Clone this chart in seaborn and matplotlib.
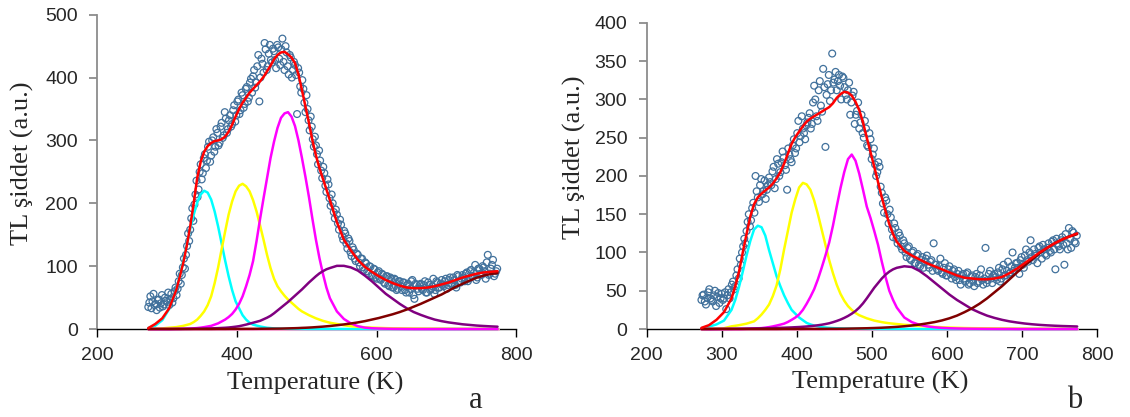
import matplotlib
matplotlib.use("Agg")
import matplotlib.pyplot as plt
import numpy as np
import seaborn as sns

# sicaklik eksenleri (K)
# fit egrileri: tepe bolgesinde 5 K, kenarlarda 10 K aralik
t_fit = np.concatenate([np.arange(273, 313, 10), np.arange(313, 538, 5), np.arange(543, 774, 10)])
# olcum noktalari: iki kaydirilmis 3 K dizisi
t_data = np.arange(273, 772, 3)
t_data2 = np.arange(274.5, 773, 3)

# ---- panel a ----
a_data = [35, 52, 44, 38, 30, 47, 41, 36, 50, 43,
          38, 56, 49, 66, 64, 88, 86, 112, 118, 152,
          158, 192, 198, 236, 222, 262, 248, 278, 268, 298,
          276, 305, 290, 312, 296, 328, 308, 335, 318, 340,
          326, 356, 340, 365, 348, 372, 358, 385, 368, 398,
          402, 384, 418, 362, 430, 408, 445, 418, 452, 424,
          442, 415, 448, 420, 462, 412, 440, 405, 432, 412,
          420, 342, 408, 376, 382, 345, 350, 316, 322, 290,
          292, 262, 268, 240, 248, 218, 230, 196, 200, 176,
          182, 158, 166, 142, 152, 128, 140, 116, 126, 108,
          118, 100, 112, 94, 104, 88, 99, 84, 95, 80,
          92, 78, 86, 72, 84, 68, 80, 66, 78, 64,
          76, 62, 74, 58, 72, 64, 78, 48, 70, 60,
          72, 62, 76, 58, 70, 64, 80, 62, 74, 66,
          78, 68, 80, 70, 82, 72, 78, 66, 84, 74,
          86, 76, 90, 80, 94, 84, 102, 82, 96, 86,
          98, 80, 118, 88, 102, 84, 92]
a_data2 = [42, 33, 56, 40, 46, 34, 54, 39, 45, 58,
           47, 42, 60, 54, 76, 72, 98, 96, 132, 140,
           176, 172, 214, 210, 250, 238, 272, 256, 290, 266,
           300, 282, 318, 292, 322, 304, 345, 312, 332, 322,
           348, 330, 362, 342, 376, 352, 382, 362, 392, 376,
           412, 392, 436, 400, 422, 455, 412, 438, 428, 446,
           428, 452, 430, 445, 425, 450, 418, 436, 400, 425,
           404, 415, 386, 396, 360, 372, 332, 338, 302, 306,
           278, 284, 252, 258, 228, 238, 208, 214, 186, 190,
           168, 174, 148, 156, 136, 144, 122, 130, 112, 120,
           106, 112, 98, 106, 92, 100, 86, 96, 82, 90,
           80, 88, 74, 84, 70, 82, 66, 80, 62, 76,
           68, 74, 62, 70, 58, 76, 54, 72, 64, 70,
           64, 70, 58, 74, 62, 68, 56, 76, 66, 72,
           70, 76, 64, 78, 72, 82, 70, 86, 76, 80,
           82, 88, 76, 92, 84, 90, 78, 96, 88, 100,
           92, 106, 86, 96, 110, 88, 96]

a_red = [1.5, 8, 17, 33,
         62, 83, 105, 132, 163, 200, 240, 266, 282, 291,
         296, 299, 300, 302, 306, 314, 325, 338, 350, 360,
         368, 376, 382, 388, 394, 401, 410, 419, 429, 436,
         440, 441, 437, 432, 423, 405, 380, 354, 328, 300,
         276, 256, 239, 222, 205,
         170, 142, 125, 110, 99, 91, 84, 78, 73, 69, 66, 65,
         65, 66, 68, 71, 74, 78, 82, 85, 88, 90, 91, 92]
a_cyan = [1.7, 5.3, 14, 32,
          63, 84, 108, 133, 159, 182, 201, 214, 220, 217,
          206, 187, 163, 136, 109, 84, 62, 44, 33, 22,
          15, 10, 7, 5.5, 4, 3, 2, 1.5, 1, 0.7,
          0.5, 0.4, 0.3, 0.25, 0.2, 0.15, 0.1, 0.05, 0, 0,
          0, 0, 0, 0, 0,
          0, 0, 0, 0, 0, 0, 0, 0, 0, 0, 0, 0,
          0, 0, 0, 0, 0, 0, 0, 0, 0, 0, 0, 0]
a_yellow = [0, 0.5, 1, 2,
            3, 4, 5, 6.5, 8, 11, 15, 21, 28, 38,
            52, 73, 98, 127, 155, 182, 203, 219, 228, 231,
            227, 219, 205, 187, 165, 142, 118, 97, 80, 68,
            60, 53, 47, 42, 37, 32, 28, 25, 22, 19.5,
            17, 15, 13, 11.5, 10,
            8, 6, 4.5, 3.5, 2.8, 2.2, 1.8, 1.4, 1.1, 1.0, 0.9, 0.8,
            0.7, 0.6, 0.55, 0.5, 0.45, 0.4, 0.35, 0.3, 0.3, 0.25, 0.2, 0.2]
a_magenta = [0, 0, 0, 0,
             0.2, 0.3, 0.4, 0.6, 0.8, 1.1, 1.5, 2.2, 3, 4,
             5, 7, 9, 12, 15, 19, 24, 31, 40, 52,
             68, 86, 108, 140, 175, 208, 240, 272, 298, 320,
             336, 343, 345, 338, 323, 300, 272, 242, 210, 175,
             142, 113, 88, 66, 49,
             28, 16, 9, 4.5, 2.2, 1.2, 0.8, 0.5, 0.3, 0.2, 0.1, 0,
             0, 0, 0, 0, 0, 0, 0, 0, 0, 0, 0, 0]
a_purple = [0, 0, 0, 0,
            0.1, 0.1, 0.2, 0.25, 0.3, 0.4, 0.5, 0.6, 0.7, 0.85,
            1.0, 1.2, 1.4, 1.7, 2.0, 2.4, 3.0, 3.7, 4.5, 5.7,
            7, 8.5, 10, 11.5, 13, 15.5, 18, 21, 25, 29.5,
            34, 38.5, 43, 48, 53, 58, 63, 68.5, 74, 79,
            84, 88.5, 92, 95, 97,
            100.5, 100.5, 98, 93, 85, 76, 66, 56, 48, 40, 33, 27,
            22.5, 18.5, 15, 12.5, 10.5, 9, 7.5, 6.5, 5.5, 4.8, 4.2, 3.7]
a_darkred = [0, 0, 0, 0,
             0, 0, 0, 0, 0, 0, 0, 0, 0, 0,
             0, 0.05, 0.1, 0.1, 0.1, 0.15, 0.2, 0.2, 0.2, 0.25,
             0.3, 0.3, 0.3, 0.35, 0.4, 0.45, 0.5, 0.55, 0.6, 0.65,
             0.7, 0.85, 1, 1.15, 1.3, 1.5, 1.8, 2, 2.3, 2.6,
             3, 3.4, 3.8, 4.3, 4.8,
             6, 7.3, 8.8, 10.5, 12.5, 15, 17.5, 20.5, 23.5, 27, 31, 35.5,
             40, 45, 50, 55, 61, 67, 72, 77, 81.5, 85, 87.5, 89]

# ---- panel b ----
b_data = [38, 45, 32, 48, 40, 36, 50, 42, 34, 46,
          40, 26, 52, 48, 62, 56, 78, 92, 100, 118,
          128, 150, 142, 165, 200, 172, 188, 176, 194, 182,
          198, 188, 212, 196, 216, 205, 232, 214, 182, 228,
          218, 248, 236, 272, 252, 262, 248, 270, 282, 268,
          318, 278, 312, 292, 340, 238, 320, 298, 360, 326,
          312, 332, 300, 328, 306, 312, 280, 305, 268, 285,
          262, 280, 250, 262, 238, 248, 228, 215, 205, 212,
          178, 152, 168, 138, 146, 120, 132, 112, 122, 104,
          112, 94, 108, 90, 102, 86, 98, 82, 94, 88,
          96, 80, 90, 112, 84, 76, 92, 72, 86, 70,
          82, 66, 78, 64, 76, 58, 72, 62, 74, 60,
          70, 56, 72, 62, 78, 58, 106, 64, 76, 60,
          72, 64, 80, 66, 84, 70, 88, 74, 100, 80,
          86, 72, 94, 80, 104, 88, 116, 90, 98, 86,
          108, 92, 104, 96, 112, 100, 116, 78, 110, 104,
          120, 84, 112, 132, 106, 126, 112]
b_data2 = [44, 36, 41, 52, 38, 44, 30, 47, 40, 38,
           48, 44, 40, 58, 52, 70, 66, 84, 108, 112,
           140, 134, 158, 152, 180, 166, 196, 180, 170, 188,
           192, 206, 184, 222, 200, 218, 224, 208, 236, 222,
           240, 230, 256, 244, 278, 256, 266, 276, 262, 296,
           300, 272, 324, 284, 316, 306, 332, 312, 322, 336,
           324, 318, 330, 316, 300, 322, 296, 310, 280, 296,
           270, 256, 272, 240, 256, 222, 236, 200, 218, 186,
           164, 172, 150, 156, 130, 138, 118, 126, 108, 116,
           100, 106, 92, 100, 86, 96, 84, 90, 80, 92,
           84, 88, 76, 84, 78, 82, 74, 80, 70, 78,
           72, 76, 68, 72, 64, 70, 66, 72, 58, 68,
           62, 68, 60, 70, 64, 66, 60, 72, 66, 70,
           68, 74, 62, 78, 70, 76, 72, 82, 76, 86,
           80, 90, 84, 96, 90, 100, 94, 104, 96, 106,
           100, 110, 98, 106, 102, 114, 104, 118, 108, 116,
           110, 124, 104, 118, 128, 114, 122]

b_red = [1.5, 5, 12, 22,
         40, 56, 75, 100, 124, 147, 163, 172, 177, 181,
         185, 190, 197, 205, 216, 229, 242, 251, 258, 265,
         271, 275, 278, 281, 284, 287, 290, 295, 302, 307,
         310, 309, 305, 297, 286, 270, 250, 231, 212, 192,
         172, 154, 137, 124, 114,
         102, 96, 91, 86, 82, 78, 74, 70, 67, 66, 65, 65,
         66, 68, 73, 79, 86, 93, 100, 106, 112, 117, 121, 125]
b_cyan = [1, 3, 6, 11,
          25, 38, 55, 75, 96, 115, 130, 135, 133, 122,
          103, 86, 69, 56, 44, 34, 25, 20, 15, 11.5,
          8, 6, 4.5, 3.5, 2.5, 2, 1.5, 1.2, 1, 0.8,
          0.6, 0.5, 0.4, 0.35, 0.3, 0.25, 0.2, 0.15, 0.1, 0.05,
          0, 0, 0, 0, 0,
          0, 0, 0, 0, 0, 0, 0, 0, 0, 0, 0, 0,
          0, 0, 0, 0, 0, 0, 0, 0, 0, 0, 0, 0]
b_yellow = [0, 0.3, 0.6, 1,
            3.5, 4.2, 5, 6, 7, 8.5, 10, 14, 19, 25,
            32, 43, 57, 78, 104, 128, 152, 170, 185, 191,
            189, 182, 168, 150, 130, 110, 90, 73, 58, 46,
            37, 30, 25, 21, 18, 16, 14, 12.5, 11, 10,
            9, 8.2, 7.5, 7, 6.5,
            5.5, 4.8, 4, 3.4, 2.8, 2.3, 1.9, 1.6, 1.3, 1.1, 1, 0.9,
            0.8, 0.7, 0.6, 0.5, 0.5, 0.4, 0.4, 0.3, 0.3, 0.3, 0.2, 0.2]
b_magenta = [0, 0, 0, 0,
             0, 0, 0, 0.1, 0.3, 0.45, 0.6, 0.9, 1.2, 1.8,
             2.5, 3.4, 4.5, 5.7, 7, 9.2, 12, 15, 19, 25,
             33, 42, 52, 65, 80, 96, 113, 135, 160, 184,
             205, 222, 228, 220, 203, 182, 160, 145, 128, 110,
             88, 68, 50, 38, 28,
             15, 9, 5.5, 3.5, 2.3, 1.5, 1, 0.7, 0.5, 0.4, 0.3, 0.2,
             0.15, 0.1, 0.1, 0, 0, 0, 0, 0, 0, 0, 0, 0]
b_purple = [0, 0, 0.1, 0.2,
            0.3, 0.35, 0.4, 0.45, 0.5, 0.6, 0.7, 0.8, 0.9, 1,
            1.1, 1.25, 1.4, 1.55, 1.7, 1.9, 2.1, 2.35, 2.6, 2.95,
            3.3, 3.8, 4.3, 4.9, 5.6, 6.5, 7.5, 8.9, 10.5, 12.3,
            14.5, 17, 20, 23.5, 28, 33.5, 40, 47, 54, 60,
            66, 71, 75, 78, 80,
            82, 81, 76, 69, 61, 53, 45, 38, 32, 26, 21.5, 17.5,
            14.5, 12, 10, 8.5, 7.2, 6.2, 5.4, 4.8, 4.3, 3.9, 3.6, 3.3]
b_darkred = [0, 0, 0, 0,
             0, 0, 0, 0, 0, 0, 0, 0, 0, 0,
             0, 0, 0, 0.05, 0.1, 0.1, 0.1, 0.1, 0.1, 0.15,
             0.2, 0.2, 0.2, 0.2, 0.2, 0.25, 0.3, 0.3, 0.3, 0.35,
             0.4, 0.5, 0.6, 0.7, 0.8, 0.9, 1, 1.15, 1.3, 1.5,
             1.7, 1.95, 2.2, 2.5, 2.8,
             3.6, 4.6, 5.8, 7.3, 9, 11.2, 14, 17.5, 22, 27, 33, 40,
             48, 56, 65, 74, 83, 91, 99, 106, 112, 117, 121, 124]

# sifir seviyesindeki pembe bilesen
pink_zero = [0] * len(t_fit)

sns.set_style("white")
plt.rcParams['font.family'] = ['Liberation Sans', 'DejaVu Sans']

fig = plt.figure(figsize=(11.3, 4.17), dpi=100)
ax_a = fig.add_axes([0.0861, 0.211, 0.3709, 0.7537])
ax_b = fig.add_axes([0.5722, 0.211, 0.399, 0.734])


def ciz(ax, data, data2, parts, red):
    for tt, yy in [(t_data, data), (t_data2, data2)]:
        sns.scatterplot(x=tt, y=yy, ax=ax, marker='o', s=24,
                        facecolor='none', edgecolor='#41719c', linewidth=0.9,
                        zorder=2, clip_on=False)
    sns.lineplot(x=t_fit, y=pink_zero, ax=ax, color='#f4a3cf', linewidth=2.2,
                 estimator=None, sort=False, zorder=3, clip_on=False)
    for vals, col in parts:
        sns.lineplot(x=t_fit, y=vals, ax=ax, color=col, linewidth=1.8,
                     estimator=None, sort=False, zorder=3, clip_on=False)
    sns.lineplot(x=t_fit, y=red, ax=ax, color='#ff0000', linewidth=1.8,
                 estimator=None, sort=False, zorder=4, clip_on=False)


ciz(ax_a, a_data, a_data2,
    [(a_cyan, '#00ffff'), (a_yellow, '#ffff00'), (a_magenta, '#ff00ff'),
     (a_purple, '#800080'), (a_darkred, '#800000')], a_red)
ciz(ax_b, b_data, b_data2,
    [(b_cyan, '#00ffff'), (b_yellow, '#ffff00'), (b_magenta, '#ff00ff'),
     (b_purple, '#800080'), (b_darkred, '#800000')], b_red)

serif = {'family': ['Liberation Serif', 'DejaVu Serif'], 'size': 19}

for ax, ymax, ystep, xstep in [(ax_a, 500, 100, 200), (ax_b, 400, 50, 100)]:
    ax.set_xlim(200, 800)
    ax.set_ylim(0, ymax)
    ax.set_xticks(np.arange(200, 801, xstep))
    ax.set_yticks(np.arange(0, ymax + 1, ystep))
    sns.despine(ax=ax)
    ax.spines['left'].set_color('#8c8c8c')
    ax.spines['left'].set_linewidth(1.3)
    ax.spines['bottom'].set_color('black')
    ax.spines['bottom'].set_linewidth(1.0)
    ax.tick_params(axis='y', left=True, direction='out', length=6, width=1.3,
                   color='#8c8c8c', labelsize=14, pad=8)
    ax.tick_params(axis='x', bottom=True, direction='out', length=6, width=1.0,
                   color='black', labelsize=14, pad=7)
    ax.set_xlabel('Temperature (K)', fontdict=serif, va='center')
    ax.set_ylabel('TL şiddet (a.u.)', fontdict=serif, va='center')

ax_a.xaxis.set_label_coords(0.519, -0.172)
ax_a.yaxis.set_label_coords(-0.178, 0.527)
ax_b.xaxis.set_label_coords(0.518, -0.175)
ax_b.yaxis.set_label_coords(-0.159, 0.562)

fig.text(476 / 1130, 1 - 408 / 417, 'a', ha='center', va='baseline',
         family=['Liberation Serif', 'DejaVu Serif'], fontsize=22)
fig.text(1075 / 1130, 1 - 408 / 417, 'b', ha='center', va='baseline',
         family=['Liberation Serif', 'DejaVu Serif'], fontsize=22)

plt.savefig("out.png", dpi=100)
plt.close()
